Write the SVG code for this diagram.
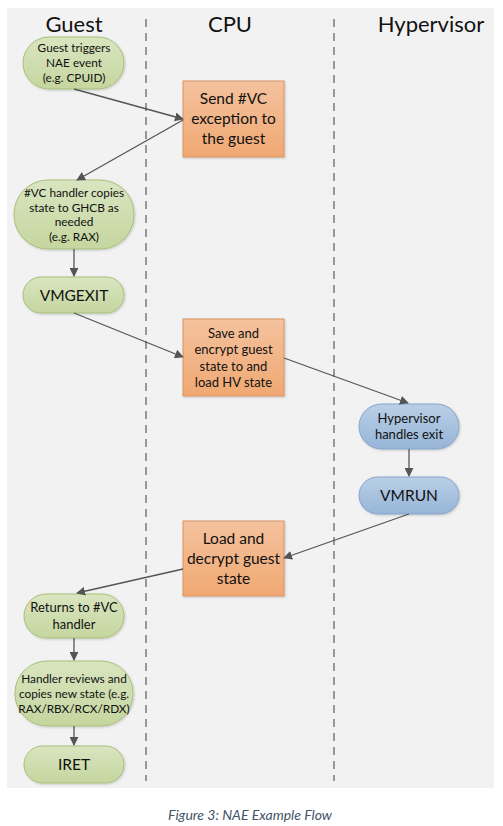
<svg xmlns="http://www.w3.org/2000/svg" width="503" height="826" viewBox="0 0 503 826">
<defs>
<linearGradient id="gGreen" x1="0" y1="0" x2="0" y2="1"><stop offset="0" stop-color="#d9e5c0"/><stop offset="1" stop-color="#c5d69f"/></linearGradient>
<linearGradient id="gOrange" x1="0" y1="0" x2="0" y2="1"><stop offset="0" stop-color="#f4c29e"/><stop offset="1" stop-color="#f0a872"/></linearGradient>
<linearGradient id="gBlue" x1="0" y1="0" x2="0" y2="1"><stop offset="0" stop-color="#b9cfe6"/><stop offset="1" stop-color="#97b5d8"/></linearGradient>
<marker id="arr" viewBox="0 0 10 10" refX="9" refY="5" markerWidth="9" markerHeight="9" markerUnits="userSpaceOnUse" orient="auto"><path d="M0,0 L10,5 L0,10 z" fill="#555"/></marker>
<filter id="sh" x="-10%" y="-10%" width="130%" height="130%"><feDropShadow dx="1" dy="1" stdDeviation="0.8" flood-color="#000" flood-opacity="0.18"/></filter>
</defs>
<style>
text{font-family:Lato,"Open Sans","Liberation Sans",sans-serif;fill:#111;text-anchor:middle}
.hdr{font-size:22px}
.green{fill:url(#gGreen);stroke:#a9bf7a;stroke-width:1;filter:url(#sh)}
.orange{fill:url(#gOrange);stroke:#d89464;stroke-width:1;filter:url(#sh)}
.blue{fill:url(#gBlue);stroke:#86a5cc;stroke-width:1;filter:url(#sh)}
.lane{stroke:#666;stroke-width:1.3;stroke-dasharray:8,6}
.conn line{stroke:#555;stroke-width:1.3;marker-end:url(#arr)}
.s{font-size:11.8px}
.m{font-size:13px}
.l{font-size:15.5px}
.cap{font-size:14px;font-style:italic;fill:#44546a}
</style>
<rect x="7" y="8" width="487" height="780" fill="#f2f2f2"/>
<line class="lane" x1="146" y1="19" x2="146" y2="781"/>
<line class="lane" x1="334" y1="19" x2="334" y2="781"/>
<text class="hdr" x="74" y="32">Guest</text>
<text class="hdr" x="230" y="32">CPU</text>
<text class="hdr" x="431" y="32">Hypervisor</text>

<g id="n1"><rect class="green" x="23" y="37" width="101" height="52" rx="26" ry="26"/>
<text class="s" x="74" y="52">Guest triggers</text><text class="s" x="74" y="67">NAE event</text><text class="s" x="74" y="82">(e.g. CPUID)</text></g>

<g id="c1"><rect class="orange" x="183" y="81" width="101" height="76"/>
<text class="l" x="233.5" y="104">Send #VC</text><text class="l" x="233.5" y="124">exception to</text><text class="l" x="233.5" y="144">the guest</text></g>

<g id="n2"><rect class="green" x="14" y="180" width="120" height="69" rx="34" ry="34"/>
<text class="s" x="74" y="197">#VC handler copies</text><text class="s" x="74" y="211.5">state to GHCB as</text><text class="s" x="74" y="226">needed</text><text class="s" x="74" y="241">(e.g. RAX)</text></g>

<g id="n3"><rect class="green" x="23" y="277" width="101" height="36" rx="18" ry="18"/>
<text class="l" x="74" y="300.5">VMGEXIT</text></g>

<g id="c2"><rect class="orange" x="183" y="319" width="101" height="77"/>
<text class="m" x="233.5" y="337.5">Save and</text><text class="m" x="233.5" y="354">encrypt guest</text><text class="m" x="233.5" y="370.5">state to and</text><text class="m" x="233.5" y="387">load HV state</text></g>

<g id="h1"><rect class="blue" x="359" y="404" width="100" height="45" rx="22.5" ry="22.5"/>
<text class="m" x="409" y="422.5">Hypervisor</text><text class="m" x="409" y="439">handles exit</text></g>

<g id="h2"><rect class="blue" x="359" y="477" width="100" height="37" rx="18.5" ry="18.5"/>
<text class="l" x="409" y="500.5">VMRUN</text></g>

<g id="c3"><rect class="orange" x="183" y="521" width="101" height="75"/>
<text class="l" x="233.5" y="543.5">Load and</text><text class="l" x="233.5" y="563.5">decrypt guest</text><text class="l" x="233.5" y="583.5">state</text></g>

<g id="n4"><rect class="green" x="24" y="594" width="100" height="44" rx="22" ry="22"/>
<text class="m" x="74" y="611.5">Returns to #VC</text><text class="m" x="74" y="628.5">handler</text></g>

<g id="n5"><rect class="green" x="15" y="661" width="118" height="65" rx="32" ry="32"/>
<text class="s" x="74" y="683">Handler reviews and</text><text class="s" x="74" y="698">copies new state (e.g.</text><text class="s" x="74" y="712.5">RAX/RBX/RCX/RDX)</text></g>

<g id="n6"><rect class="green" x="24" y="746" width="100" height="37" rx="18.5" ry="18.5"/>
<text class="l" x="74" y="770">IRET</text></g>

<g id="connectors" class="conn">
<line x1="74" y1="89" x2="183" y2="119"/>
<line x1="183" y1="120" x2="77" y2="180"/>
<line x1="74" y1="249" x2="74" y2="276"/>
<line x1="74" y1="313" x2="183" y2="357"/>
<line x1="284" y1="358" x2="408" y2="403"/>
<line x1="409" y1="449" x2="409" y2="476"/>
<line x1="409" y1="514" x2="284" y2="558"/>
<line x1="183" y1="569" x2="77" y2="593"/>
<line x1="74" y1="638" x2="74" y2="660"/>
<line x1="74" y1="726" x2="74" y2="745"/>
</g>
<text class="cap" x="250" y="820">Figure 3: NAE Example Flow</text>
</svg>
